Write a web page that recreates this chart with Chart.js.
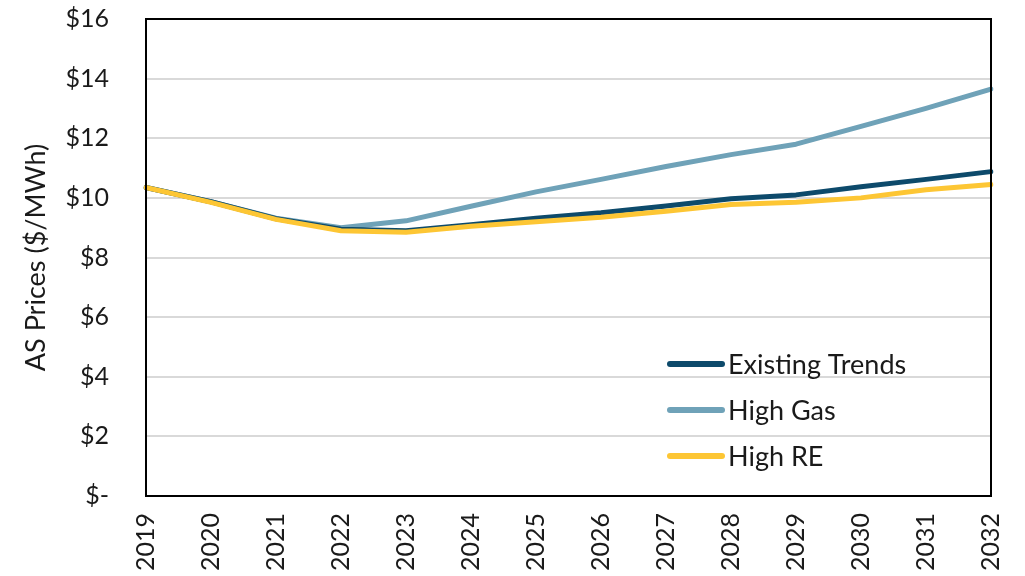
<!DOCTYPE html>
<html>
<head>
<meta charset="utf-8">
<title>AS Prices by Scenario</title>
<script src="https://cdn.jsdelivr.net/npm/chart.js@4/dist/chart.umd.min.js"></script>
<style>
  html, body { margin: 0; padding: 0; background: #ffffff; }
  #wrap { width: 1025px; height: 576px; }
</style>
</head>
<body>
<div id="wrap"><canvas id="chart" width="1025" height="576"></canvas></div>
<script>
// Ancillary service prices ($/MWh) by scenario
const years = ['2019', '2020', '2021', '2022', '2023', '2024', '2025', '2026', '2027', '2028', '2029', '2030', '2031', '2032'];
const existingTrends = [10.35, 9.87, 9.30, 8.95, 8.90, 9.10, 9.32, 9.50, 9.73, 9.97, 10.10, 10.37, 10.62, 10.88];
const highGas       = [10.35, 9.87, 9.32, 9.00, 9.23, 9.72, 10.20, 10.62, 11.05, 11.45, 11.80, 12.40, 13.00, 13.65];
const highRE        = [10.35, 9.85, 9.28, 8.90, 8.85, 9.05, 9.20, 9.35, 9.55, 9.78, 9.85, 10.00, 10.27, 10.45];
const yTicks = [0, 2, 4, 6, 8, 10, 12, 14, 16];

const FONT = 'Lato, "Open Sans", sans-serif';
const TEXT = '#1a1a1a';

// Frame around the plot area
const frame = {
  id: 'frame',
  afterDatasetsDraw(chart) {
    const a = chart.chartArea, ctx = chart.ctx;
    ctx.save();
    ctx.strokeStyle = '#000000';
    ctx.lineWidth = 2;
    ctx.strokeRect(a.left, a.top, a.right - a.left, a.bottom - a.top);
    ctx.restore();
  }
};

// Legend drawn inside the plot area, lower right
const innerLegend = {
  id: 'innerLegend',
  afterDraw(chart) {
    const ctx = chart.ctx;
    const a = chart.chartArea;
    const x0 = a.left + 524, lineLen = 52, gap = 6;
    const y0 = a.top + 345, step = 46;
    ctx.save();
    ctx.font = '27px ' + FONT;
    ctx.textBaseline = 'middle';
    ctx.textAlign = 'left';
    chart.data.datasets.forEach((ds, i) => {
      const y = y0 + i * step;
      ctx.strokeStyle = ds.borderColor;
      ctx.lineWidth = 6;
      ctx.lineCap = 'round';
      ctx.beginPath();
      ctx.moveTo(x0, y);
      ctx.lineTo(x0 + lineLen, y);
      ctx.stroke();
      ctx.fillStyle = TEXT;
      ctx.fillText(ds.label, x0 + lineLen + gap, y + 1);
    });
    ctx.restore();
  }
};

new Chart(document.getElementById('chart'), {
  type: 'line',
  data: {
    labels: years,
    datasets: [
      { label: 'Existing Trends', data: existingTrends, borderColor: '#0d4a6b', order: 2 },
      { label: 'High Gas', data: highGas, borderColor: '#6fa2b8', order: 3 },
      { label: 'High RE', data: highRE, borderColor: '#fdc634', order: 1 }
    ].map(d => Object.assign({ borderWidth: 5, pointRadius: 0, tension: 0, fill: false, borderCapStyle: 'round', borderJoinStyle: 'round' }, d))
  },
  options: {
    responsive: false,
    animation: false,
    layout: { padding: { top: 19, right: 34, left: 0, bottom: 0 } },
    plugins: {
      legend: { display: false },
      tooltip: { enabled: false }
    },
    scales: {
      x: {
        offset: false,
        grid: { display: false, drawTicks: false },
        border: { display: false },
        ticks: {
          minRotation: 90, maxRotation: 90, autoSkip: false, padding: 17,
          color: TEXT, font: { family: FONT, size: 25 }
        },
        afterFit(scale) {
          scale.height = 80;
          scale.paddingLeft = 0; scale.paddingRight = 0;
          scale.paddingTop = 0; scale.paddingBottom = 0;
        }
      },
      y: {
        min: 0, max: 16,
        afterBuildTicks(scale) { scale.ticks = yTicks.map(v => ({ value: v })); },
        grid: { color: '#d9d9d9', lineWidth: 2, drawTicks: false },
        border: { display: false },
        ticks: {
          padding: 37, color: TEXT, font: { family: FONT, size: 25 },
          callback: v => (v === 0 ? '$-' : '$' + v)
        },
        title: {
          display: true, text: 'AS Prices ($/MWh)', color: TEXT,
          font: { family: FONT, size: 27 }, padding: { top: 20, bottom: 0 }
        },
        afterFit(scale) {
          scale.width = 146;
          scale.paddingTop = 0; scale.paddingBottom = 0;
          scale.paddingLeft = 0; scale.paddingRight = 0;
        }
      }
    }
  },
  plugins: [frame, innerLegend]
});
</script>
</body>
</html>
